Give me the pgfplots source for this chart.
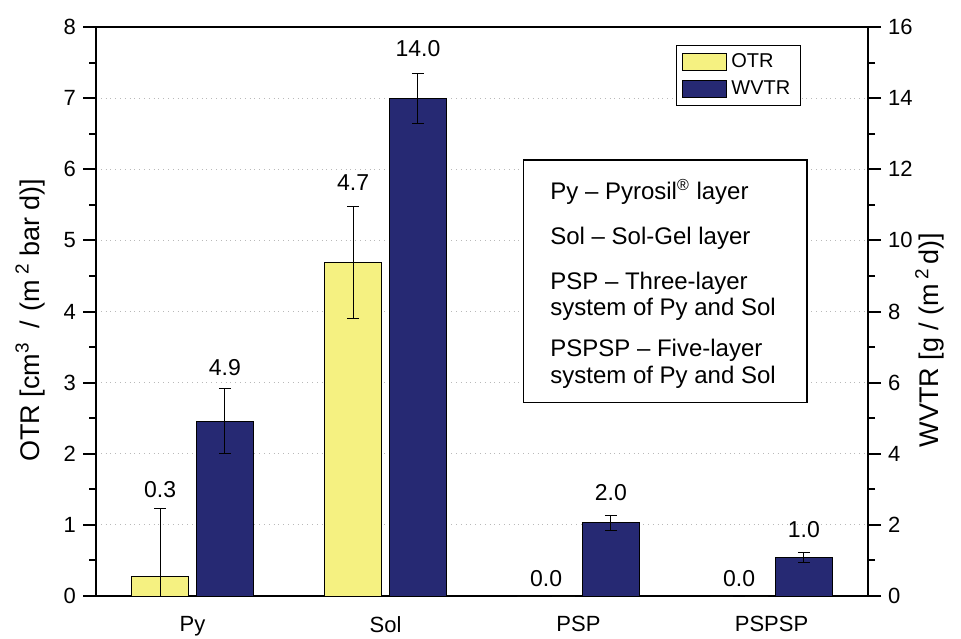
\documentclass[border=0pt]{standalone}
\usepackage{pgfplots}
\pgfplotsset{compat=1.18}
\usepackage{fontspec}
\setmainfont{Liberation Sans}
\definecolor{otryellow}{RGB}{245,241,129}
\definecolor{wvtrblue}{RGB}{38,41,115}
\pgfplotsset{
  common/.style={
    scale only axis, width=386pt, height=284.5pt,
    xmin=0.5, xmax=4.5, ymin=0,
    tick align=outside,
    axis line style={line width=1pt},
    major tick length=6.5pt, minor tick length=3.5pt,
    tick style={line width=1pt, black},
    /pgf/number format/assume math mode=true,
    tick label style={font=\fontsize{11}{13}\selectfont},
    label style={font=\fontsize{13.5}{16}\selectfont},
  }
}
\begin{document}
\begin{tikzpicture}[font=\fontsize{11.5}{13.5}\selectfont]
\begin{axis}[common,
  ymax=8, ytick={0,1,...,8}, minor y tick num=1, ytick pos=left,
  xtick pos=bottom,
  xtick={1,2,3,4}, xticklabels={Py,Sol,PSP,PSPSP},
  x tick style={draw=none},
  extra x ticks={0.5,0.8333,1.1667,1.5,1.8333,2.1667,2.5,2.8333,3.1667,3.5,3.8333,4.1667,4.5},
  extra x tick labels={},
  extra x tick style={major tick length=3pt, tick style={draw=gray, line width=0.5pt}, grid=none},
  ymajorgrids, grid style={gray!55, dotted, line width=0.6pt},
  ylabel={OTR [cm\textsuperscript{3}\hspace{3pt} / \hspace{1pt}(m\hspace{3pt}\textsuperscript{2}\hspace{3pt}bar d)]},
  ylabel style={at={(axis description cs:-0.0855,0.485)}, anchor=center},
]
\addplot[ybar, bar width=0.295, bar shift=0pt, fill=otryellow, draw=black, line width=0.5pt,
  error bars/.cd, y dir=both, y explicit,
  error bar style={line width=0.5pt, black},
  error mark options={rotate=90, mark size=3pt, line width=0.5pt, black}]
  table[x=x, y=y, y error=e] {
x y e
0.832 0.28 0.95
1.832 4.69 0.79
2.832 0 0
3.832 0 0
};
\node at (axis cs:0.832,1.49) {0.3};
\node at (axis cs:1.832,5.81) {4.7};
\node at (axis cs:2.832,0.25) {0.0};
\node at (axis cs:3.832,0.25) {0.0};
\end{axis}
\begin{axis}[common,
  ymax=16, ytick={0,2,...,16}, minor y tick num=1,
  axis x line=none, axis y line*=right,
  ylabel={WVTR [g / (m\hspace{2pt}\textsuperscript{2}\hspace{2pt}d)]},
  ylabel style={at={(axis description cs:1.080,0.45)}, anchor=center},
  legend style={at={(0.751,0.968)}, anchor=north west, draw=black, line width=0.6pt,
    font=\fontsize{10}{12}\selectfont, inner xsep=3pt, inner ysep=2pt, row sep=1pt,
    cells={anchor=west}},
  legend image code/.code={\draw[draw=black, line width=0.5pt, #1] (0pt,-4.25pt) rectangle (22pt,4.25pt);},
]
\addlegendimage{fill=otryellow}
\addlegendimage{fill=wvtrblue}
\addplot[ybar, bar width=0.295, bar shift=0pt, fill=wvtrblue, draw=black, line width=0.5pt,
  error bars/.cd, y dir=both, y explicit,
  error bar style={line width=0.5pt, black},
  error mark options={rotate=90, mark size=3pt, line width=0.5pt, black}]
  table[x=x, y=y, y error=e] {
x y e
1.168 4.92 0.92
2.168 13.98 0.70
3.168 2.06 0.21
4.168 1.08 0.14
};
\legend{OTR,WVTR}
\node at (axis cs:1.168,6.41) {4.9};
\node at (axis cs:2.168,15.4) {14.0};
\node at (axis cs:3.168,2.92) {2.0};
\node at (axis cs:4.168,1.86) {1.0};
\draw[line width=0.8pt, fill=white] (rel axis cs:0.554,0.766) rectangle (rel axis cs:0.921,0.34);
\begin{scope}[every node/.style={anchor=west, font=\fontsize{12}{14}\selectfont, inner sep=0pt}]
\node at (rel axis cs:0.588,0.710) {Py -- Pyrosil\textsuperscript{®} layer};
\node at (rel axis cs:0.588,0.629) {Sol -- Sol-Gel layer};
\node at (rel axis cs:0.588,0.550) {PSP -- Three-layer};
\node at (rel axis cs:0.588,0.503) {system of Py and Sol};
\node at (rel axis cs:0.588,0.432) {PSPSP -- Five-layer};
\node at (rel axis cs:0.588,0.385) {system of Py and Sol};
\end{scope}
\end{axis}
\pgfresetboundingbox
\path (-48pt,-21pt) rectangle (432.5pt,298pt);
\end{tikzpicture}
\end{document}
